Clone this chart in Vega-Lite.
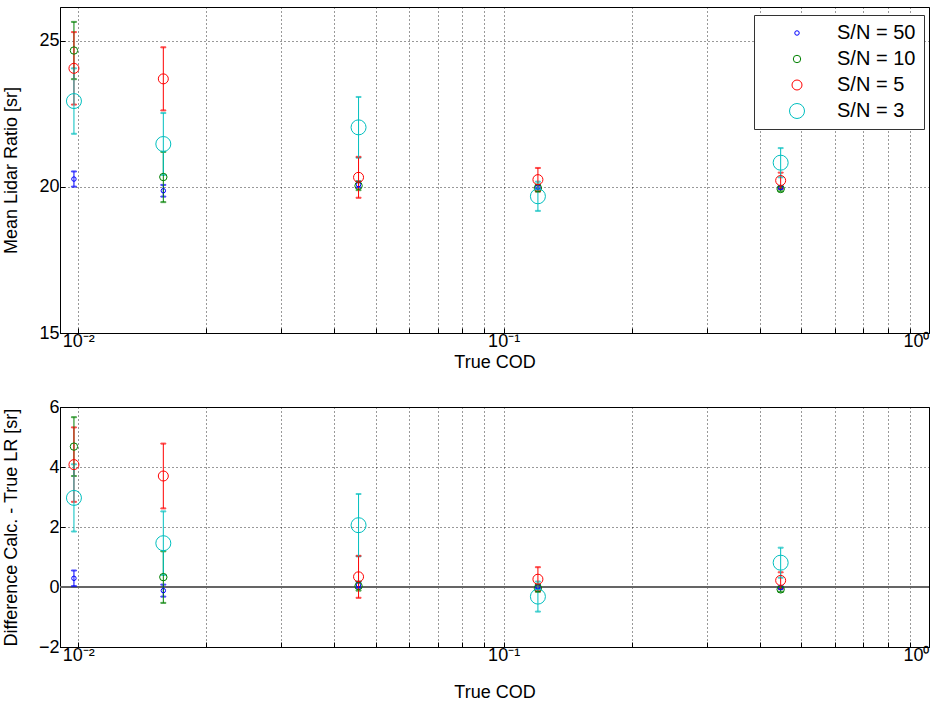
{
  "$schema": "https://vega.github.io/schema/vega-lite/v6.json",
  "padding": {"left": 1, "top": 6, "right": 14, "bottom": 4},
  "background": "white",
  "spacing": 25,
  "data": {"values": [
    {"cod": 0.00977, "sn": "S/N = 50", "lr": 20.27, "diff": 0.29, "err": 0.26},
    {"cod": 0.00977, "sn": "S/N = 10", "lr": 24.67, "diff": 4.68, "err": 0.98},
    {"cod": 0.00977, "sn": "S/N = 5", "lr": 24.06, "diff": 4.08, "err": 1.24},
    {"cod": 0.00977, "sn": "S/N = 3", "lr": 22.94, "diff": 2.97, "err": 1.12},
    {"cod": 0.01585, "sn": "S/N = 50", "lr": 19.87, "diff": -0.12, "err": 0.2},
    {"cod": 0.01585, "sn": "S/N = 10", "lr": 20.34, "diff": 0.33, "err": 0.86},
    {"cod": 0.01585, "sn": "S/N = 5", "lr": 23.7, "diff": 3.7, "err": 1.08},
    {"cod": 0.01585, "sn": "S/N = 3", "lr": 21.47, "diff": 1.46, "err": 1.06},
    {"cod": 0.0456, "sn": "S/N = 50", "lr": 20.08, "diff": 0.07, "err": 0.1},
    {"cod": 0.0456, "sn": "S/N = 10", "lr": 20.04, "diff": 0.03, "err": 0.15},
    {"cod": 0.0456, "sn": "S/N = 5", "lr": 20.33, "diff": 0.34, "err": 0.7},
    {"cod": 0.0456, "sn": "S/N = 3", "lr": 22.04, "diff": 2.06, "err": 1.04},
    {"cod": 0.1204, "sn": "S/N = 50", "lr": 20.0, "diff": 0.01, "err": 0.06},
    {"cod": 0.1204, "sn": "S/N = 10", "lr": 19.96, "diff": -0.04, "err": 0.12},
    {"cod": 0.1204, "sn": "S/N = 5", "lr": 20.25, "diff": 0.26, "err": 0.4},
    {"cod": 0.1204, "sn": "S/N = 3", "lr": 19.68, "diff": -0.32, "err": 0.5},
    {"cod": 0.448, "sn": "S/N = 50", "lr": 19.98, "diff": -0.02, "err": 0.05},
    {"cod": 0.448, "sn": "S/N = 10", "lr": 19.93, "diff": -0.08, "err": 0.08},
    {"cod": 0.448, "sn": "S/N = 5", "lr": 20.22, "diff": 0.22, "err": 0.27},
    {"cod": 0.448, "sn": "S/N = 3", "lr": 20.83, "diff": 0.81, "err": 0.5}
  ]},
  "resolve": {"legend": {"color": "independent", "size": "independent"}},
  "vconcat": [
    {
      "width": 869,
      "height": 326,
      "layer": [
        {
          "mark": {"type": "errorbar", "ticks": {"size": 5, "thickness": 1}, "thickness": 1},
          "encoding": {
            "x": {"field": "cod", "type": "quantitative", "scale": {"type": "log", "domain": [0.00906, 1], "nice": false},
              "axis": {"title": "True COD", "values": [0.01,0.02,0.03,0.04,0.05,0.06,0.07,0.08,0.09,0.1,0.2,0.3,0.4,0.5,0.6,0.7,0.8,0.9,1],
                "labelExpr": "datum.value == 0.01 ? '10⁻²' : datum.value == 0.1 ? '10⁻¹' : datum.value == 1 ? '10⁰' : ''", "titlePadding": 3}},
            "y": {"field": "lr", "type": "quantitative", "scale": {"domain": [15, 26.16], "nice": false, "zero": false},
              "axis": {"title": "Mean Lidar Ratio [sr]", "values": [15, 20, 25]}},
            "yError": {"field": "err"},
            "stroke": {"field": "sn", "type": "nominal", "legend": null,
              "scale": {"domain": ["S/N = 50", "S/N = 10", "S/N = 5", "S/N = 3"], "range": ["#0000ff", "#008000", "#ff0000", "#00bfbf"]}},
            "fill": {"field": "sn", "type": "nominal", "legend": null,
              "scale": {"domain": ["S/N = 50", "S/N = 10", "S/N = 5", "S/N = 3"], "range": ["#0000ff", "#008000", "#ff0000", "#00bfbf"]}}
          }
        },
        {
          "mark": {"type": "point", "filled": false, "strokeWidth": 1, "opacity": 1},
          "encoding": {
            "x": {"field": "cod", "type": "quantitative"},
            "y": {"field": "lr", "type": "quantitative"},
            "color": {"field": "sn", "type": "nominal",
              "scale": {"domain": ["S/N = 50", "S/N = 10", "S/N = 5", "S/N = 3"], "range": ["#0000ff", "#008000", "#ff0000", "#00bfbf"]},
              "legend": {"title": null, "orient": "none", "legendX": 694, "legendY": 8, "padding": 8, "symbolOffset": 25, "labelOffset": 30, "rowPadding": 6,
                "strokeColor": "#333333", "fillColor": "white", "labelFontSize": 20, "labelFont": "Liberation Sans", "labelColor": "black", "symbolStrokeWidth": 1, "symbolType": "circle"}},
            "size": {"field": "sn", "type": "nominal",
              "scale": {"type": "ordinal", "domain": ["S/N = 50", "S/N = 10", "S/N = 5", "S/N = 3"], "range": [20, 55, 100, 225]},
              "legend": {"title": null, "orient": "none", "legendX": 694, "legendY": 8, "padding": 8, "symbolOffset": 25, "labelOffset": 30, "rowPadding": 6,
                "strokeColor": "#333333", "fillColor": "white", "labelFontSize": 20, "labelFont": "Liberation Sans", "labelColor": "black", "symbolStrokeWidth": 1, "symbolType": "circle"}}
          }
        }
      ]
    },
    {
      "width": 869,
      "height": 240,
      "layer": [
        {
          "mark": {"type": "rule", "color": "#666666", "strokeWidth": 1.5},
          "encoding": {"y": {"datum": 0, "type": "quantitative"}}
        },
        {
          "mark": {"type": "errorbar", "ticks": {"size": 5, "thickness": 1}, "thickness": 1},
          "encoding": {
            "x": {"field": "cod", "type": "quantitative", "scale": {"type": "log", "domain": [0.00906, 1], "nice": false},
              "axis": {"title": "True COD", "values": [0.01,0.02,0.03,0.04,0.05,0.06,0.07,0.08,0.09,0.1,0.2,0.3,0.4,0.5,0.6,0.7,0.8,0.9,1],
                "labelExpr": "datum.value == 0.01 ? '10⁻²' : datum.value == 0.1 ? '10⁻¹' : datum.value == 1 ? '10⁰' : ''", "titlePadding": 19}},
            "y": {"field": "diff", "type": "quantitative", "scale": {"domain": [-2, 6], "nice": false, "zero": false},
              "axis": {"title": "Difference Calc. - True LR [sr]", "values": [-2, 0, 2, 4, 6]}},
            "yError": {"field": "err"},
            "stroke": {"field": "sn", "type": "nominal", "legend": null,
              "scale": {"domain": ["S/N = 50", "S/N = 10", "S/N = 5", "S/N = 3"], "range": ["#0000ff", "#008000", "#ff0000", "#00bfbf"]}},
            "fill": {"field": "sn", "type": "nominal", "legend": null,
              "scale": {"domain": ["S/N = 50", "S/N = 10", "S/N = 5", "S/N = 3"], "range": ["#0000ff", "#008000", "#ff0000", "#00bfbf"]}}
          }
        },
        {
          "mark": {"type": "point", "filled": false, "strokeWidth": 1, "opacity": 1},
          "encoding": {
            "x": {"field": "cod", "type": "quantitative"},
            "y": {"field": "diff", "type": "quantitative"},
            "color": {"field": "sn", "type": "nominal", "legend": null,
              "scale": {"domain": ["S/N = 50", "S/N = 10", "S/N = 5", "S/N = 3"], "range": ["#0000ff", "#008000", "#ff0000", "#00bfbf"]}},
            "size": {"field": "sn", "type": "nominal", "legend": null,
              "scale": {"type": "ordinal", "domain": ["S/N = 50", "S/N = 10", "S/N = 5", "S/N = 3"], "range": [20, 55, 100, 225]}}
          }
        }
      ]
    }
  ],
  "config": {
    "font": "Liberation Sans",
    "view": {"stroke": "#000000", "strokeWidth": 1},
    "axis": {
      "domainColor": "#000000",
      "tickColor": "#000000",
      "tickSize": -5,
      "labelPadding": 6,
      "labelFontSize": 18,
      "labelColor": "#000000",
      "labelFont": "Liberation Sans",
      "titleFontSize": 18,
      "titleFontWeight": "normal",
      "titleColor": "#000000",
      "titleFont": "Liberation Sans",
      "grid": true,
      "gridColor": "#000000",
      "gridDash": [1, 3],
      "gridOpacity": 0.8,
      "gridWidth": 1
    },
    "axisY": {"minExtent": 38, "maxExtent": 38, "titlePadding": 2},
    "axisX": {"labelPadding": 4}
  }
}
